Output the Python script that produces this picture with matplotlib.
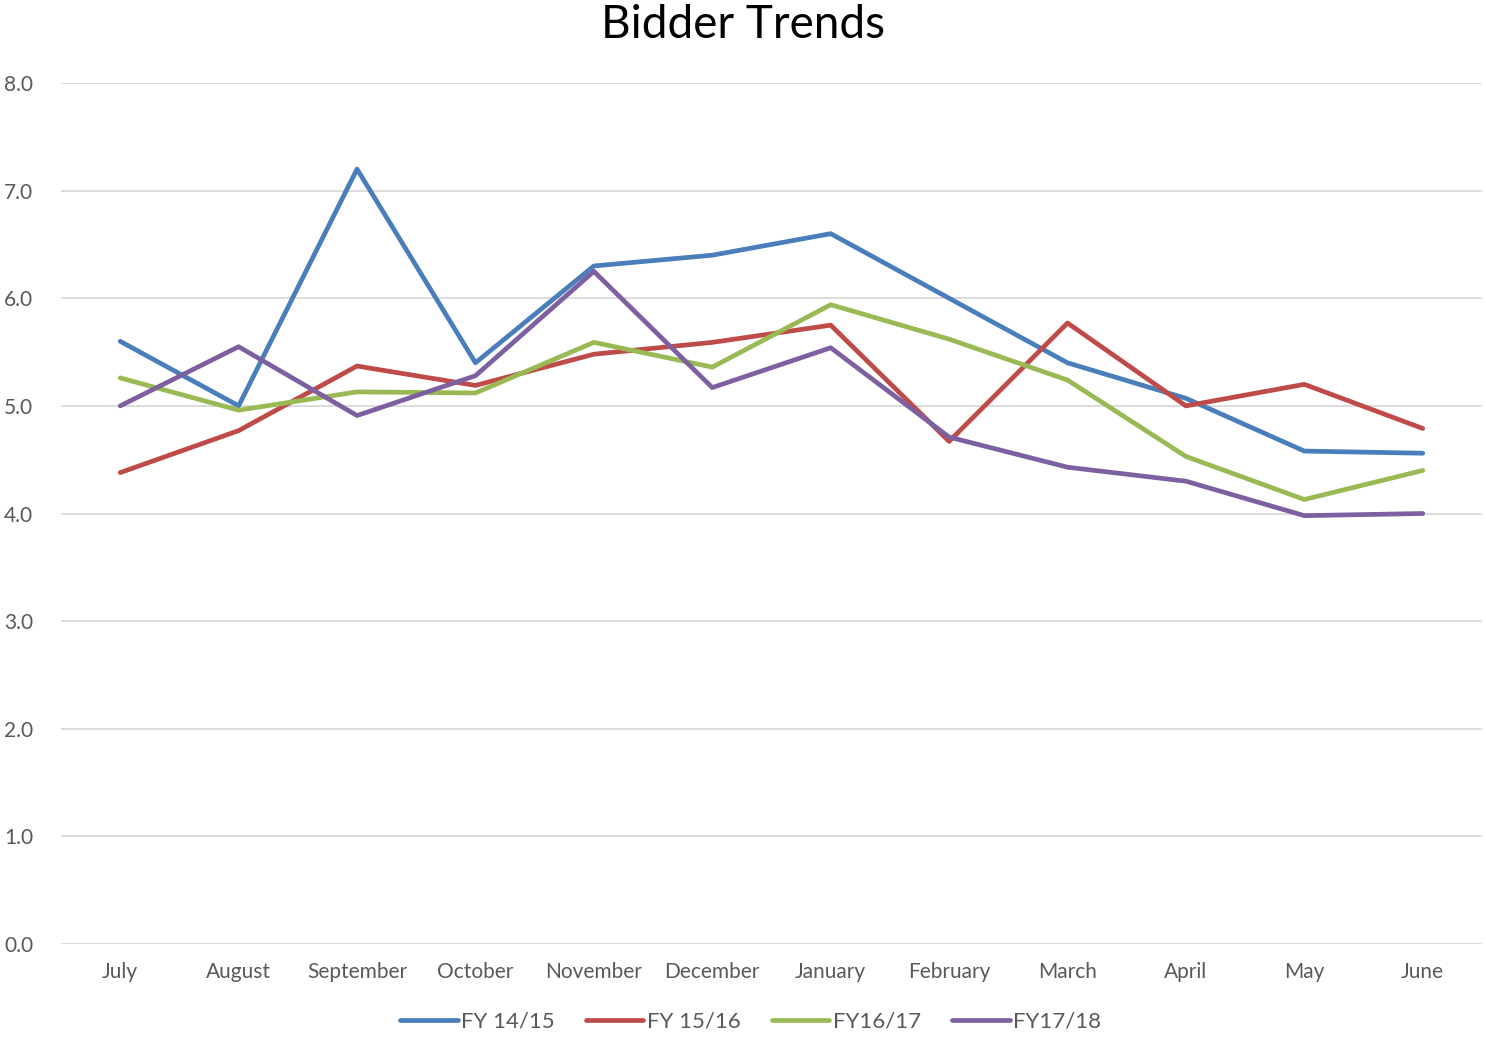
import matplotlib
matplotlib.use("Agg")
import matplotlib.pyplot as plt

months = ["July", "August", "September", "October", "November", "December",
          "January", "February", "March", "April", "May", "June"]
series_names = ["FY 14/15", "FY 15/16", "FY16/17", "FY17/18"]
fy1415 = [5.60, 5.00, 7.20, 5.40, 6.30, 6.40, 6.60, 6.00, 5.40, 5.07, 4.58, 4.56]
fy1516 = [4.38, 4.77, 5.37, 5.19, 5.48, 5.59, 5.75, 4.67, 5.77, 5.00, 5.20, 4.79]
fy1617 = [5.26, 4.96, 5.13, 5.12, 5.59, 5.36, 5.94, 5.62, 5.24, 4.53, 4.13, 4.40]
fy1718 = [5.00, 5.55, 4.91, 5.28, 6.25, 5.17, 5.54, 4.71, 4.43, 4.30, 3.98, 4.00]
yticks = [0, 1, 2, 3, 4, 5, 6, 7, 8]

colors = ["#4a7ebb", "#be4b48", "#98b954", "#7d60a0"]
plt.rcParams['font.family'] = ['Lato', 'DejaVu Sans']

fig = plt.figure(figsize=(14.86, 10.38), dpi=100)
ax = fig.add_axes([61/1486, 1-944/1038, 1421/1486, (944-83)/1038])

x = list(range(len(months)))
for data, name, c in zip([fy1415, fy1516, fy1617, fy1718], series_names, colors):
    ax.plot(x, data, color=c, lw=3.4, label=name, solid_capstyle='round', solid_joinstyle='round')

ax.set_xlim(-0.5, 11.5)
ax.set_ylim(0, 8)
ax.set_yticks(yticks)
ax.set_yticklabels([f"{v:.1f}" for v in yticks])
ax.set_xticks(x)
ax.set_xticklabels(months)
ax.yaxis.grid(True, color="#d9d9d9", lw=1.3)
ax.set_axisbelow(True)
for s in ax.spines.values():
    s.set_visible(False)
ax.tick_params(axis='both', length=0, colors="#595959", labelsize=15)
ax.tick_params(axis='x', pad=13)
ax.tick_params(axis='y', pad=20)

fig.text(0.5, 1-38/1038, "Bidder Trends", ha='center', va='baseline', fontsize=33, color='black')

leg = fig.legend(loc='center', bbox_to_anchor=(0.505, 1-1022/1038), ncol=4, frameon=False,
                 fontsize=16, handlelength=2.6, handletextpad=0.15, columnspacing=1.4)
for t in leg.get_texts():
    t.set_color("#595959")

fig.savefig("out.png", dpi=100)
